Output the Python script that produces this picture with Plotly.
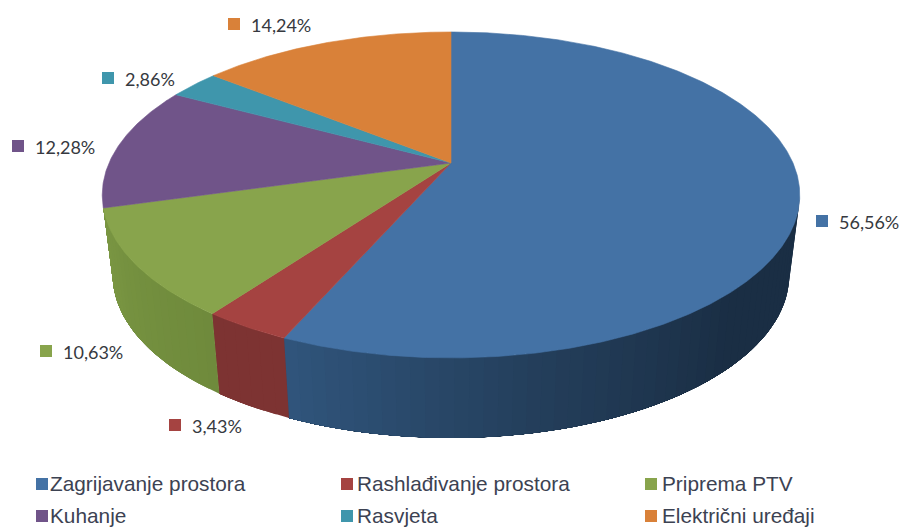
import numpy as np
import plotly.graph_objects as go

# Chart data
categories = ["Zagrijavanje prostora", "Rashlađivanje prostora", "Priprema PTV",
              "Kuhanje", "Rasvjeta", "Električni uređaji"]
shares = [56.56, 3.43, 10.63, 12.28, 2.86, 14.24]

top_colors = ["#4472a5", "#a54341", "#88a44c", "#705489", "#3f96ac", "#d98139"]
# side wall shading along the rim, clockwise; only the first three slices show a wall
side_shades = [["#1a2e44", "#1a2e44", "#243f5c", "#30557c"],
               ["#7d3332", "#7d3332"],
               ["#6f8a3c", "#74903f", "#7b9743"]]

# Where things sit on the page, in pixels
label_pos = [(822, 221), (175, 425), (46, 351), (18, 146), (108, 78), (234, 24)]
legend_pos = [(42, 484), (347, 484), (651, 484), (42, 516), (347, 516), (651, 516)]
legend_text_x = [48, 355, 660, 48, 355, 660]

# Perspective of the pie disc
CX, CY = 451, 163
SCALE_X, SCALE_Y, TILT = 342, 156.7, 0.196
WALL_DROP, WALL_SHRINK = 80, 0.97
RIGHT_TANGENT = 101.3


def project(theta, lower=False):
    # theta in degrees, clockwise from the top of the pie
    t = np.radians(theta)
    u, v = np.sin(t), np.cos(t)
    w = 1 + TILT * v
    x, y = SCALE_X * u / w, -SCALE_Y * v / w
    if lower:
        return CX + WALL_SHRINK * x, CY + y + WALL_DROP
    return CX + x, CY + y


def shade(stops, f):
    # colour at fraction f along a list of hex stops
    pos = f * (len(stops) - 1)
    k = min(int(pos), len(stops) - 2)
    a = [int(stops[k][i:i + 2], 16) for i in (1, 3, 5)]
    b = [int(stops[k + 1][i:i + 2], 16) for i in (1, 3, 5)]
    return "rgb(%d,%d,%d)" % tuple(round(p + (q - p) * (pos - k)) for p, q in zip(a, b))


def polygon(xs, ys, color, line_width=0.6):
    return go.Scatter(x=xs, y=ys, mode="lines", fill="toself", fillcolor=color,
                      line=dict(color=color, width=line_width), hoverinfo="skip",
                      showlegend=False)


fig = go.Figure()

edges = np.concatenate([[0], np.cumsum(shares)]) * 3.6

# Side walls first. Each strip runs on to the end of its slice and the next one
# paints over it, so no seams show between strips.
for i, stops in enumerate(side_shades):
    start, end = max(edges[i], RIGHT_TANGENT), edges[i + 1]
    n_strips = max(2, int((end - start) / 2))
    steps = np.linspace(start, end, n_strips + 1)
    for j in range(n_strips):
        arc = np.linspace(steps[j], end, max(4, n_strips - j + 2))
        x_top, y_top = project(arc)
        x_low, y_low = project(arc[::-1], lower=True)
        fig.add_trace(polygon(np.concatenate([x_top, x_low]),
                              np.concatenate([y_top, y_low]),
                              shade(stops, (j + 0.5) / n_strips), line_width=0))

# Top face
for i in range(len(shares)):
    arc = np.linspace(edges[i], edges[i + 1], max(4, int(shares[i] * 8)))
    x_arc, y_arc = project(arc)
    fig.add_trace(polygon(np.concatenate([[CX], x_arc, [CX]]),
                          np.concatenate([[CY], y_arc, [CY]]), top_colors[i]))

# Legend keys and data label keys
fig.add_trace(go.Scatter(
    x=[p[0] for p in label_pos + legend_pos],
    y=[p[1] for p in label_pos + legend_pos],
    mode="markers",
    marker=dict(symbol="square", size=12, color=top_colors + top_colors),
    hoverinfo="skip", showlegend=False))

annotations = []
for (x, y), value in zip(label_pos, shares):
    annotations.append(dict(
        x=x + 15, y=y + 1, text=f"{value:.2f}%".replace(".", ","),
        showarrow=False, xanchor="left", yanchor="middle",
        font=dict(family="Lato", size=18, color="#363940")))
for (_, y), tx, name in zip(legend_pos, legend_text_x, categories):
    annotations.append(dict(
        x=tx, y=y - 1, text=name,
        showarrow=False, xanchor="left", yanchor="middle",
        font=dict(family="Liberation Sans", size=20.8, color="#3c4252")))

fig.update_layout(
    width=903, height=527,
    margin=dict(l=0, r=0, t=0, b=0),
    paper_bgcolor="white", plot_bgcolor="white",
    xaxis=dict(range=[0, 903], visible=False),
    yaxis=dict(range=[527, 0], visible=False),
    annotations=annotations,
    showlegend=False)

fig.write_html("out.html", config=dict(displayModeBar=False),
               post_script="document.body.style.margin='0';")
